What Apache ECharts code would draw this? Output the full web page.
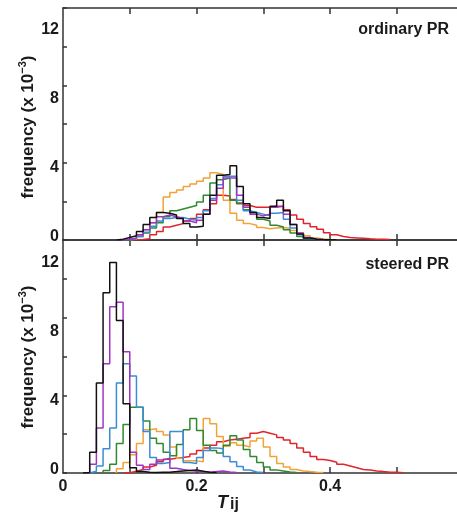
<!DOCTYPE html>
<html>
<head>
<meta charset="utf-8">
<script src="https://cdn.jsdelivr.net/npm/echarts@6/dist/echarts.min.js"></script>
<style>
  html, body { margin: 0; padding: 0; background: #ffffff; }
  #chart { width: 457px; height: 525px; }
</style>
</head>
<body>
<div id="chart"></div>
<script>
// Histogram bins of T_ij: bin k covers [k*0.01, (k+1)*0.01), k = 0..50.
const binWidth = 0.01;
const xTickValues = [0.1, 0.2, 0.3, 0.4, 0.5];
const xLabelValues = [0, 0.2, 0.4];
const xTickLabels = ['0', '0.2', '0.4'];
const yLabelValues = [0, 4, 8, 12];
const yTickLabels = ['0', '4', '8', '12'];
const panelTitles = ['ordinary PR', 'steered PR'];

// Frequencies (x 10^-3), ordinary PR
const ordinaryRed = [
  0, 0, 0, 0, 0, 0, 0, 0, 0, 0,
  0, 0.03, 0.08, 0.3, 0.5, 0.75, 0.85, 0.95, 1.1, 1.25,
  1.5, 1.75, 2.1, 2.6, 2.55, 2.35, 2.15, 2.0, 1.9, 1.9,
  1.9, 1.95, 1.95, 1.75, 1.45, 1.2, 0.96, 0.77, 0.62, 0.42,
  0.3, 0.2, 0.14, 0.12, 0.1, 0.07, 0.05, 0.04, 0.03, 0, 0
];
const ordinaryOrange = [
  0, 0, 0, 0, 0, 0, 0, 0, 0, 0,
  0.05, 0.25, 0.6, 1.0, 1.6, 2.5, 2.75, 2.9, 3.1, 3.25,
  3.4, 3.6, 3.9, 3.8, 2.3, 1.55, 1.15, 0.95, 0.85, 0.72,
  0.65, 0.7, 0.72, 0.68, 0.55, 0.4, 0.25, 0.12, 0.06, 0.03,
  0.02, 0, 0, 0, 0, 0, 0, 0, 0, 0, 0
];
const ordinaryGreen = [
  0, 0, 0, 0, 0, 0, 0, 0, 0, 0.02,
  0.08, 0.2, 0.4, 0.7, 1.0, 1.35, 1.7, 1.8, 1.9, 2.0,
  2.2, 2.6, 3.3, 3.5, 3.6, 2.3, 2.1, 1.75, 1.6, 1.2,
  1.1, 0.85, 0.75, 0.6, 0.4, 0.2, 0.08, 0.03, 0, 0,
  0, 0, 0, 0, 0, 0, 0, 0, 0, 0, 0
];
const ordinaryBlue = [
  0, 0, 0, 0, 0, 0, 0, 0, 0, 0.03,
  0.08, 0.2, 0.45, 0.8, 1.1, 1.25, 1.3, 1.3, 1.2, 1.15,
  1.3, 1.7, 2.4, 3.2, 3.7, 3.7, 2.3, 1.7, 1.6, 1.5,
  1.4, 1.55, 1.6, 1.2, 0.7, 0.3, 0.12, 0.05, 0.02, 0,
  0, 0, 0, 0, 0, 0, 0, 0, 0, 0, 0
];
const ordinaryPurple = [
  0, 0, 0, 0, 0, 0, 0, 0, 0.02, 0.05,
  0.1, 0.3, 0.6, 1.0, 1.35, 1.45, 1.35, 1.25, 1.1, 1.0,
  1.15, 1.5, 2.3, 3.0, 3.6, 3.6, 2.6, 1.9, 1.5, 1.4,
  1.5, 1.9, 1.95, 1.5, 0.9, 0.4, 0.15, 0.05, 0.02, 0,
  0, 0, 0, 0, 0, 0, 0, 0, 0, 0, 0
];
const ordinaryBlack = [
  0, 0, 0, 0, 0, 0, 0, 0, 0.05, 0.15,
  0.25, 0.5, 0.9, 1.3, 1.6, 1.55, 1.45, 1.25, 0.95, 0.75,
  0.8, 1.5, 2.6, 3.75, 3.8, 4.3, 3.1, 2.1, 1.6, 1.3,
  1.25, 1.95, 2.3, 1.7, 0.9, 0.35, 0.12, 0.05, 0.03, 0.02,
  0.01, 0, 0, 0, 0, 0, 0, 0, 0, 0, 0
];

// Frequencies (x 10^-3), steered PR
const steeredRed = [
  0, 0, 0, 0, 0, 0, 0, 0, 0, 0.02,
  0.1, 0.2, 0.35, 0.45, 0.65, 0.8, 0.85, 0.9, 0.95, 1.1,
  1.3, 1.45, 1.6, 1.8, 1.9, 1.95, 2.0, 2.05, 2.3, 2.4,
  2.3, 2.2, 2.05, 1.9, 1.7, 1.45, 1.2, 0.95, 0.78, 0.72,
  0.62, 0.5, 0.4, 0.3, 0.2, 0.17, 0.12, 0.08, 0.05, 0.04, 0.02
];
const steeredOrange = [
  0, 0, 0, 0, 0, 0, 0, 0, 0.25, 0.6,
  1.05, 1.7, 2.5, 2.55, 2.4, 2.2, 1.5, 0.85, 0.7, 0.7,
  0.65, 3.15, 2.85, 2.1, 1.55, 1.75, 1.6, 1.5, 1.85, 2.0,
  1.5, 0.95, 0.55, 0.35, 0.2, 0.12, 0.08, 0.05, 0.03, 0,
  0, 0, 0, 0, 0, 0, 0, 0, 0, 0, 0
];
const steeredGreen = [
  0, 0, 0, 0, 0, 0, 0.15, 0.5, 1.7, 2.8,
  3.8, 3.8, 3.0, 2.0, 1.7, 1.2, 1.0, 1.65, 2.5, 3.15,
  2.45, 1.6, 1.3, 1.15, 1.6, 2.15, 1.9, 1.35, 0.95, 0.6,
  0.35, 0.18, 0.12, 0.06, 0.03, 0, 0, 0, 0, 0,
  0, 0, 0, 0, 0, 0, 0, 0, 0, 0, 0
];
const steeredBlue = [
  0, 0, 0, 0, 0.1, 0.4, 1.4, 2.6, 5.2, 6.3,
  5.6, 3.8, 2.4, 0.9, 0.55, 0.6, 2.4, 2.4, 0.6, 0.55,
  0.9, 1.3, 1.45, 1.4, 0.95, 0.65, 0.37, 0.17, 0.06, 0.03,
  0, 0, 0, 0, 0, 0, 0, 0, 0, 0,
  0, 0, 0, 0, 0, 0, 0, 0, 0, 0, 0
];
const steeredPurple = [
  0, 0, 0, 0, 0.5, 2.6, 6.3, 9.6, 9.85, 7.0,
  1.2, 0.45, 0.2, 0.5, 0.75, 0.85, 0.27, 0.2, 0.15, 0.1,
  0.08, 0.05, 0.08, 0.12, 0.06, 0.03, 0, 0, 0, 0,
  0, 0, 0, 0, 0, 0, 0, 0, 0, 0,
  0, 0, 0, 0, 0, 0, 0, 0, 0, 0, 0
];
const steeredBlack = [
  0, 0, 0, 0.03, 1.2, 5.2, 10.4, 12.15, 8.8, 4.0,
  0.3, 0.08, 0.04, 0.03, 0.05, 0.05, 0.08, 0.12, 0.15, 0.18,
  0.1, 0.05, 0.03, 0, 0, 0, 0, 0, 0, 0,
  0, 0, 0, 0, 0, 0, 0, 0, 0, 0,
  0, 0, 0, 0, 0, 0, 0, 0, 0, 0, 0
];

// Line colours, drawn back to front
const palette = {
  red: '#e3232b',
  orange: '#f0a338',
  green: '#2f8a2f',
  blue: '#3a8cd6',
  purple: '#a234c4',
  black: '#111111'
};

const panels = [
  { red: ordinaryRed, orange: ordinaryOrange, green: ordinaryGreen,
    blue: ordinaryBlue, purple: ordinaryPurple, black: ordinaryBlack },
  { red: steeredRed, orange: steeredOrange, green: steeredGreen,
    blue: steeredBlue, purple: steeredPurple, black: steeredBlack }
];

const FONT = "'Liberation Sans', Arial, sans-serif";
const AXIS_COLOR = '#333333';
const TEXT_COLOR = '#1a1a1a';

// Turn bin heights into the outline of a step histogram, closed to the baseline.
function stepOutline(values) {
  const first = values.findIndex(v => v > 0);
  let last = values.length - 1;
  while (last >= 0 && values[last] <= 0) last--;
  const edge = k => Math.round(k * binWidth * 1e6) / 1e6;
  const pts = [[edge(first), 0]];
  for (let k = first; k <= last; k++) pts.push([edge(k), values[k]]);
  pts.push([edge(last + 1), 0]);
  return pts;
}

const grids = [
  { left: 63, top: 8, width: 394, height: 232 },
  { left: 63, top: 240, width: 394, height: 233 }
];

const lineStyle = { color: AXIS_COLOR, width: 1.5 };

function xAxisFor(gridIndex, position, withLabels) {
  return {
    type: 'value', gridIndex, position,
    min: 0, max: 0.59, interval: 0.1,
    axisLine: { show: true, onZero: false, lineStyle },
    axisTick: { show: true, inside: true, length: 6, lineStyle, customValues: xTickValues },
    splitLine: { show: false },
    axisLabel: {
      show: withLabels,
      customValues: xLabelValues,
      margin: 6,
      fontFamily: FONT, fontSize: 16, fontWeight: 'bold', color: TEXT_COLOR,
      formatter: v => {
        const i = xLabelValues.findIndex(t => Math.abs(t - v) < 1e-6);
        return i >= 0 ? xTickLabels[i] : '';
      }
    }
  };
}

function yAxesFor(gridIndex) {
  return [
    {
      // value axis carrying the series and the labels
      type: 'value', gridIndex, position: 'left',
      min: 0, max: 13.45, interval: 4,
      axisLine: { show: true, onZero: false, lineStyle },
      axisTick: { show: false },
      splitLine: { show: false },
      axisLabel: {
        customValues: yLabelValues,
        margin: 4,
        verticalAlign: 'bottom',
        lineHeight: 6,
        fontFamily: FONT, fontSize: 16, fontWeight: 'bold', color: TEXT_COLOR,
        formatter: v => {
          const i = yLabelValues.findIndex(t => Math.abs(t - v) < 1e-6);
          return i >= 0 ? yTickLabels[i] : '';
        }
      }
    },
    {
      // minor tick marks along the left edge
      type: 'value', gridIndex, position: 'left',
      min: 0, max: 12, interval: 2,
      axisLine: { show: false },
      axisTick: { show: true, inside: true, length: 4, lineStyle },
      axisLabel: { show: false },
      splitLine: { show: false }
    }
  ];
}

const seriesList = [];
panels.forEach((panel, p) => {
  Object.keys(palette).forEach((key, i) => {
    seriesList.push({
      type: 'line',
      name: panelTitles[p] + ' ' + key,
      xAxisIndex: p * 2,
      yAxisIndex: p * 2,
      step: 'end',
      symbol: 'none',
      showSymbol: false,
      silent: true,
      z: 2 + i,
      lineStyle: { color: palette[key], width: 1.5 },
      data: stepOutline(panel[key])
    });
  });
});

// Rotated axis title "frequency (x 10^-3)", centred beside each panel
const yTitleRich = {
  t: { fontFamily: FONT, fontSize: 17, fontWeight: 'bold', fill: TEXT_COLOR, lineHeight: 21 },
  s: { fontFamily: FONT, fontSize: 11, fontWeight: 'bold', fill: TEXT_COLOR, lineHeight: 12, verticalAlign: 'top' }
};
function yTitle(cy) {
  return {
    type: 'text', x: 28, y: cy, rotation: Math.PI / 2, silent: true,
    style: {
      text: '{t|frequency (x 10}{s|\u22123}{t|)}',
      align: 'center', verticalAlign: 'middle',
      textAlign: 'center', textVerticalAlign: 'middle',
      rich: yTitleRich
    }
  };
}

const chart = echarts.init(document.getElementById('chart'), null, { renderer: 'canvas' });
chart.setOption({
  animation: false,
  backgroundColor: '#ffffff',
  grid: grids,
  xAxis: [
    xAxisFor(0, 'bottom', false),
    xAxisFor(0, 'top', false),
    xAxisFor(1, 'bottom', true),
    xAxisFor(1, 'top', false)
  ],
  yAxis: [...yAxesFor(0), ...yAxesFor(1)],
  series: seriesList,
  graphic: [
    yTitle(127),
    yTitle(357),
    {
      type: 'text', right: 8, top: 22,
      style: { text: panelTitles[0], fontFamily: FONT, fontSize: 16, fontWeight: 'bold', fill: TEXT_COLOR }
    },
    {
      type: 'text', right: 8, top: 257,
      style: { text: panelTitles[1], fontFamily: FONT, fontSize: 16, fontWeight: 'bold', fill: TEXT_COLOR }
    },
    {
      type: 'text', left: 217, top: 488,
      style: {
        text: '{T|T}{s|ij}',
        rich: {
          T: { fontFamily: FONT, fontSize: 18, fontWeight: 'bold', fontStyle: 'italic', fill: TEXT_COLOR, lineHeight: 20 },
          s: { fontFamily: FONT, fontSize: 16, fontWeight: 'bold', fill: TEXT_COLOR, lineHeight: 16, verticalAlign: 'bottom', padding: [9, 0, 0, 2] }
        }
      }
    }
  ]
});
</script>
</body>
</html>
